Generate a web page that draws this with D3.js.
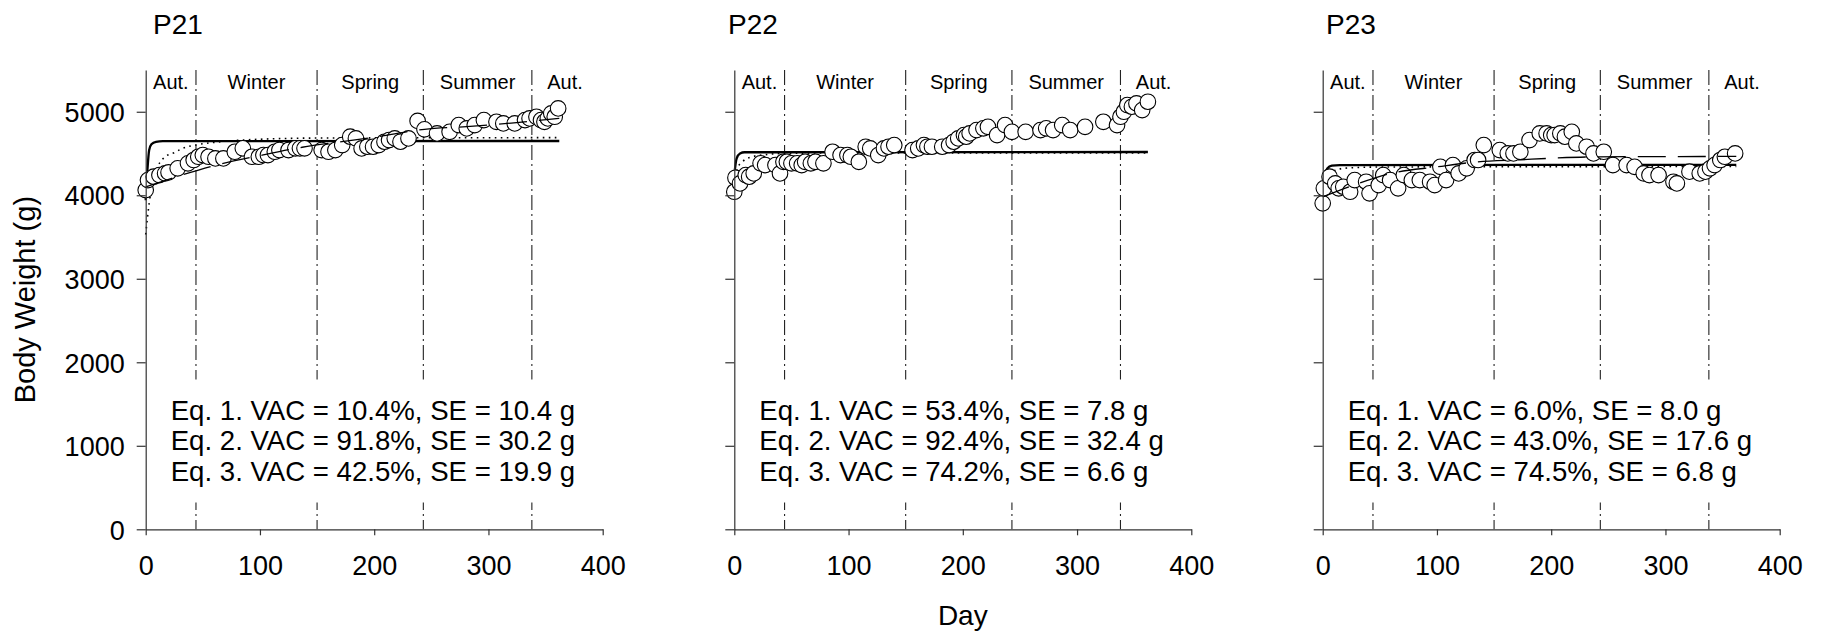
<!DOCTYPE html>
<html>
<head>
<meta charset="utf-8">
<script src="https://cdn.jsdelivr.net/npm/d3@7"></script>
<style>
  body { margin: 0; background: #fff; }
  svg { display: block; }
  text { font-family: "Liberation Sans", Arial, Helvetica, sans-serif; fill: #000; }
</style>
</head>
<body>
<svg id="chart" width="1825" height="633"></svg>
<script>
// ---- Season boundaries (day) and names ----
const seasonBounds = [0, 44, 150, 243, 338, 396];
const seasonNames = ["Aut.", "Winter", "Spring", "Summer", "Aut."];
const seasonLines = [44, 150, 243, 338];

// ---- Axis ticks ----
const xTicks = [0, 100, 200, 300, 400];
const yTicks = [0, 1000, 2000, 3000, 4000, 5000];

// ---- P21 observations ----
const p21Days = [0, 2, 7, 12, 17, 20, 28, 37, 42, 46, 50, 55, 61, 68, 78, 85, 93, 99, 103, 107, 113, 117, 125, 131, 135, 139,
  154, 160, 166, 172, 179, 184, 189, 194, 199, 204, 209, 213, 218, 223, 230, 238, 244,
  255, 266, 274, 281, 288, 296, 307, 313, 323, 332, 336, 342, 346, 349, 352, 355, 358, 361];
const p21Weights = [4062, 4182, 4222, 4242, 4262, 4274, 4322, 4382, 4422, 4461, 4481, 4461, 4441, 4441, 4521, 4562, 4461, 4461, 4481, 4481, 4521, 4541, 4541, 4562, 4562, 4562,
  4541, 4521, 4541, 4601, 4701, 4681, 4561, 4581, 4581, 4601, 4641, 4661, 4681, 4641, 4681, 4890, 4790,
  4741, 4760, 4841, 4800, 4841, 4900, 4880, 4860, 4860, 4900, 4920, 4940, 4900, 4880, 4920, 4980, 4940, 5040];

// ---- P22 observations ----
const p22Days = [0, 1, 5, 10, 13, 17, 23, 27, 36, 40, 43, 46, 50, 55, 59, 62, 67, 71, 78, 86, 93, 99, 102, 109, 115, 119, 126, 131, 135, 140,
  156, 161, 166, 169, 173, 182, 188, 192, 196, 201, 203, 206, 212, 218, 222, 230, 237, 243,
  255, 268, 273, 279, 287, 294, 307, 323, 335, 338, 341, 344, 348, 352, 357, 362];
const p22Weights = [4042, 4210, 4142, 4242, 4222, 4262, 4382, 4362, 4362, 4262, 4401, 4401, 4382, 4382, 4362, 4401, 4382, 4401, 4382, 4521, 4481, 4481, 4461, 4401, 4581, 4561, 4481, 4561, 4581, 4601,
  4541, 4561, 4601, 4581, 4581, 4581, 4601, 4641, 4681, 4721, 4701, 4741, 4781, 4801, 4820, 4721, 4841, 4760,
  4760, 4781, 4801, 4781, 4841, 4781, 4820, 4880, 4841, 4940, 5000, 5080, 5060, 5100, 5020, 5120];

// ---- P23 observations ----
const p23Days = [0, 1, 6, 11, 14, 18, 24, 28, 38, 41, 49, 53, 59, 66, 71, 78, 85, 94, 98, 103, 108, 114, 119, 126, 133, 136, 141,
  155, 162, 167, 173, 181, 190, 196, 200, 203, 208, 212, 218, 222, 231, 237,
  246, 254, 266, 273, 281, 286, 294, 307, 310, 321, 330, 335, 339, 343, 348, 352, 361];
const p23Weights = [3903, 4083, 4222, 4142, 4083, 4102, 4042, 4182, 4162, 4023, 4122, 4242, 4182, 4083, 4242, 4182, 4182, 4162, 4122, 4341, 4182, 4362, 4262, 4322, 4422, 4422, 4601,
  4541, 4501, 4501, 4521, 4661, 4741, 4741, 4721, 4721, 4741, 4701, 4760, 4621, 4581, 4501,
  4521, 4362, 4362, 4341, 4262, 4242, 4242, 4162, 4142, 4282, 4262, 4282, 4322, 4362, 4422, 4461, 4501];

// ---- Fitted curves: [day, weight] knots ----
const p21Eq1 = [[0, 3940], [1.5, 4300], [3, 4540], [5, 4610], [9, 4640], [15, 4648], [362, 4650]];
const p21Eq2 = [[0, 3530], [3, 3900], [8, 4250], [17, 4460], [25, 4510], [32, 4560], [43, 4600], [58, 4630], [90, 4665], [150, 4685], [362, 4690]];
const p21Eq3 = [[0, 4100], [30, 4235], [60, 4355], [100, 4475], [137, 4575], [170, 4640], [200, 4695], [244, 4790], [281, 4822], [320, 4865], [362, 4920]];

const p22Eq1 = [[0, 4250], [2, 4440], [5, 4500], [9, 4515], [362, 4518]];
const p22Eq2 = [[0, 4150], [3, 4330], [7, 4400], [15, 4460], [30, 4490], [45, 4502], [80, 4506], [362, 4508]];

const p23Eq1 = [[0, 3820], [2, 4200], [4, 4320], [8, 4355], [15, 4362], [362, 4365]];
const p23Eq2 = [[0, 3900], [3, 4150], [8, 4280], [20, 4325], [50, 4338], [362, 4345]];
const p23Eq3 = [[0, 3980], [27, 4120], [59, 4260], [100, 4340], [135, 4400], [173, 4425], [203, 4445], [240, 4460], [362, 4465]];

// ---- Goodness-of-fit statements ----
const p21Stats = ["Eq. 1. VAC = 10.4%, SE = 10.4 g", "Eq. 2. VAC = 91.8%, SE = 30.2 g", "Eq. 3. VAC = 42.5%, SE = 19.9 g"];
const p22Stats = ["Eq. 1. VAC = 53.4%, SE = 7.8 g", "Eq. 2. VAC = 92.4%, SE = 32.4 g", "Eq. 3. VAC = 74.2%, SE = 6.6 g"];
const p23Stats = ["Eq. 1. VAC = 6.0%, SE = 8.0 g", "Eq. 2. VAC = 43.0%, SE = 17.6 g", "Eq. 3. VAC = 74.5%, SE = 6.8 g"];

const panels = [
  { title: "P21", days: p21Days, weights: p21Weights, eq1: p21Eq1, eq2: p21Eq2, eq3: p21Eq3, stats: p21Stats },
  { title: "P22", days: p22Days, weights: p22Weights, eq1: p22Eq1, eq2: p22Eq2, eq3: null, stats: p22Stats },
  { title: "P23", days: p23Days, weights: p23Weights, eq1: p23Eq1, eq2: p23Eq2, eq3: p23Eq3, stats: p23Stats }
];

// ---- Layout ----
const panelLeft = [145.7, 734.3, 1322.7];
const titleLeft = [153, 728, 1326];
const plotW = 457, plotTop = 70, plotBottom = 529.3;
const ink = "#000", axisColor = "#333";

const svg = d3.select("#chart");

const y = d3.scaleLinear().domain([0, 5500]).range([plotBottom, plotTop]);

panels.forEach((p, i) => {
  const x = d3.scaleLinear().domain([0, 400]).range([0, plotW]);
  const g = svg.append("g").attr("transform", `translate(${panelLeft[i]},0)`);

  // Season boundaries
  g.selectAll("line.season").data(seasonLines).join("line")
    .attr("class", "season")
    .attr("x1", d => x(d)).attr("x2", d => x(d))
    .attr("y1", y(5500)).attr("y2", y(0))
    .attr("stroke", "#222").attr("stroke-width", 1.1)
    .attr("stroke-dasharray", "15,4,2,4");

  // Season names centred in each interval
  g.selectAll("text.season").data(seasonNames).join("text")
    .attr("class", "season")
    .attr("x", (d, k) => x((seasonBounds[k] + seasonBounds[k + 1]) / 2))
    .attr("y", 89)
    .attr("text-anchor", "middle")
    .style("font-size", "20px")
    .text(d => d);

  const line = d3.line().x(d => x(d[0])).y(d => y(d[1])).curve(d3.curveMonotoneX);

  // Eq. 1 (heavy solid) and Eq. 2 (dotted) under the observations
  g.append("path").datum(p.eq1).attr("d", line)
    .attr("fill", "none").attr("stroke", ink).attr("stroke-width", 2.3);
  g.append("path").datum(p.eq2).attr("d", line)
    .attr("fill", "none").attr("stroke", ink).attr("stroke-width", 1.6)
    .attr("stroke-dasharray", "1.6,4.4");

  // Observations
  const pts = p.days.map((d, k) => [d, p.weights[k]]);
  g.selectAll("circle").data(pts).join("circle")
    .attr("cx", d => x(d[0])).attr("cy", d => y(d[1]))
    .attr("r", 7.8)
    .attr("fill", "#fff").attr("stroke", ink).attr("stroke-width", 1.1);

  // Eq. 3 (long dashes)
  if (p.eq3) {
    g.append("path").datum(p.eq3).attr("d", line)
      .attr("fill", "none").attr("stroke", ink).attr("stroke-width", 1.3)
      .attr("stroke-dasharray", "28,12");
  }

  // Statistics block on a white panel
  const stats = g.append("g");
  const bg = stats.append("rect").attr("fill", "#fff");
  stats.selectAll("text").data(p.stats).join("text")
    .attr("x", 25)
    .attr("y", (d, k) => 419.5 + k * 30.5)
    .style("font-size", "27.6px")
    .text(d => d);
  const bb = stats.node().getBBox();
  bg.attr("x", bb.x - 8).attr("y", bb.y - 15).attr("width", bb.width + 16).attr("height", bb.height + 31);

  // Axes
  const xAxis = g.append("g").attr("transform", `translate(0,${plotBottom})`)
    .call(d3.axisBottom(x).tickValues(xTicks).tickSize(6).tickSizeOuter(0).tickFormat(d3.format("d")));
  xAxis.selectAll("text").attr("y", 45.7).attr("dy", null).style("font-size", "27px");

  const yAxis = g.append("g")
    .call(d3.axisLeft(y).tickValues(yTicks).tickSize(9).tickPadding(12).tickSizeOuter(0).tickFormat(d3.format("d")));
  yAxis.selectAll("text").attr("dy", "0.36em").style("font-size", "27px");
  if (i > 0) yAxis.selectAll("text").remove();

  [xAxis, yAxis].forEach(a => {
    a.select(".domain").attr("stroke", axisColor).attr("stroke-width", 1.2);
    a.selectAll(".tick line").attr("stroke", axisColor).attr("stroke-width", 1.2);
    a.attr("font-family", null).attr("font-size", null);
  });

  // Panel title
  svg.append("text").attr("x", titleLeft[i]).attr("y", 34)
    .style("font-size", "28px").text(p.title);
});

// Shared axis titles
svg.append("text")
  .attr("transform", `translate(35,${(plotTop + plotBottom) / 2}) rotate(-90)`)
  .attr("text-anchor", "middle")
  .style("font-size", "29px")
  .text("Body Weight (g)");

svg.append("text")
  .attr("x", panelLeft[1] + plotW / 2).attr("y", 625)
  .attr("text-anchor", "middle")
  .style("font-size", "28px")
  .text("Day");
</script>
</body>
</html>
